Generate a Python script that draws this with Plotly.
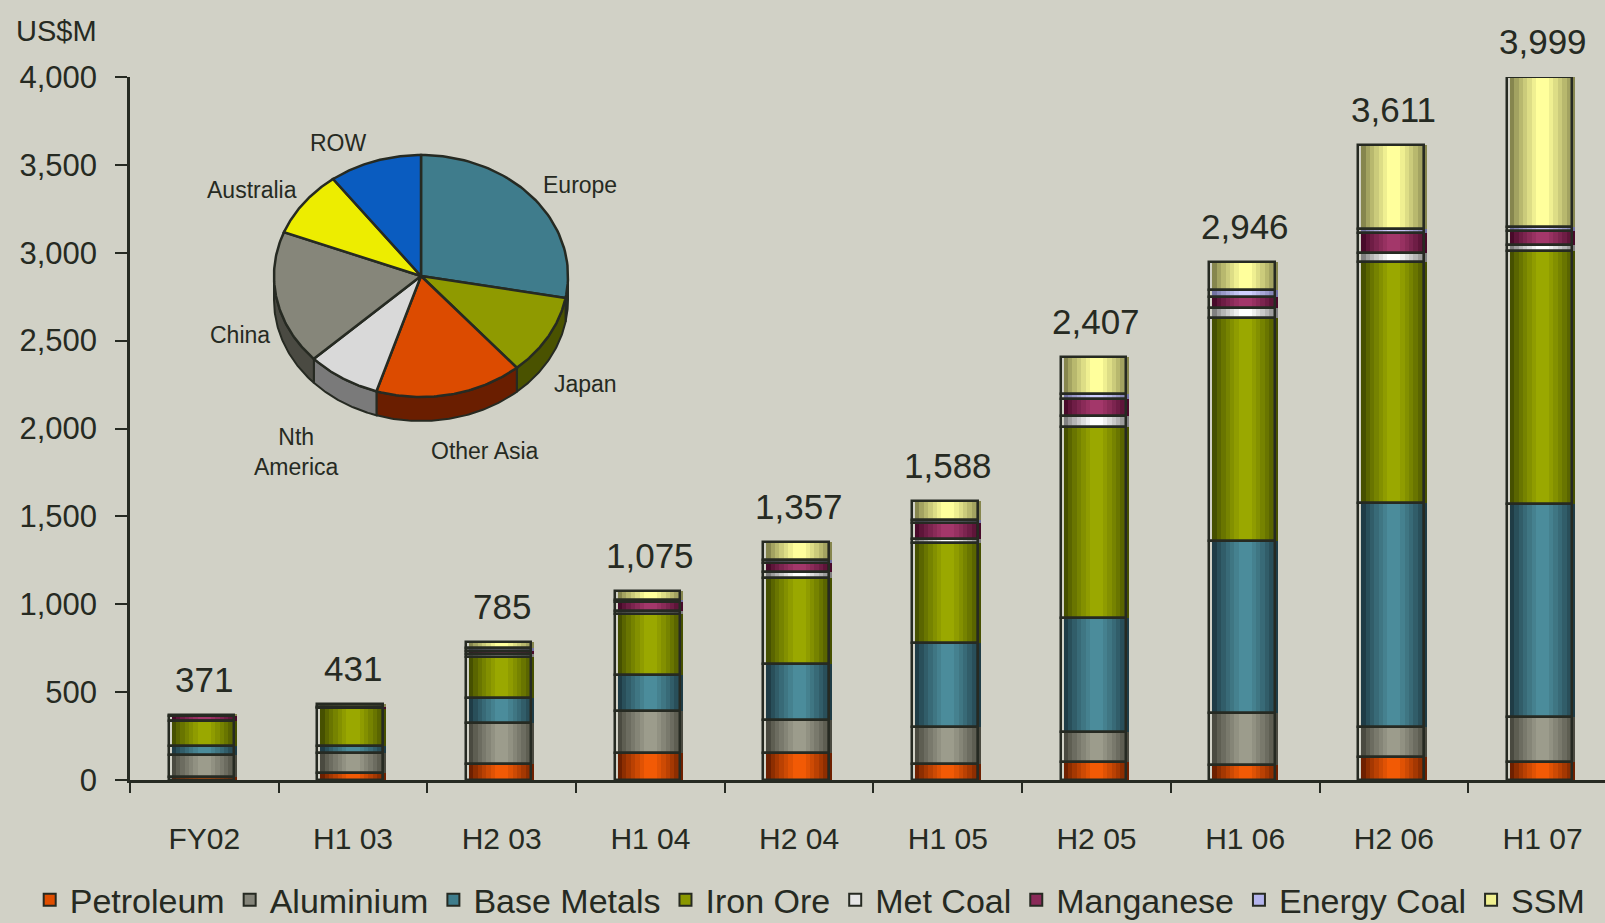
import numpy as np
import plotly.graph_objects as go

# ---- revenue by customer sector group, US$M ----
categories = ["FY02", "H1 03", "H2 03", "H1 04", "H2 04", "H1 05", "H2 05", "H1 06", "H2 06", "H1 07"]
petroleum = [18, 40, 89, 151, 156, 92, 104, 88, 129, 105]
aluminium = [123, 112, 237, 242, 185, 211, 167, 293, 170, 256]
base_metals = [54, 44, 138, 202, 321, 479, 650, 980, 1276, 1208]
iron_ore = [143, 212, 237, 349, 486, 567, 1087, 1268, 1373, 1440]
met_coal = [0, 0, 14, 20, 33, 23, 63, 56, 49, 37]
manganese = [28, 10, 20, 50, 52, 92, 99, 66, 114, 78]
energy_coal = [0, 0, 16, 10, 16, 16, 28, 37, 24, 24]
ssm = [5, 13, 34, 51, 108, 108, 209, 158, 476, 851]

series_names = ["Petroleum", "Aluminium", "Base Metals", "Iron Ore",
                "Met Coal", "Manganese", "Energy Coal", "SSM"]
series_values = [petroleum, aluminium, base_metals, iron_ore,
                 met_coal, manganese, energy_coal, ssm]

# ---- destination split (inset pie), % ----
regions = ["Europe", "Japan", "Other Asia", "Nth America", "China", "Australia", "ROW"]
region_share = [27.9, 10.8, 16.2, 8.1, 17.9, 8.9, 10.2]

# ---- styling ----
BG = "#d1d1c6"
INK = "#262a22"
FONT = "Liberation Sans, Arial, sans-serif"
BAR_W = 0.44

# edge shade, centre highlight, legend swatch
series_colors = {
    "Petroleum":   ("#6e2000", "#f25a05", "#e04e00"),
    "Aluminium":   ("#4a4a40", "#9c9c8c", "#85857a"),
    "Base Metals": ("#1f3c46", "#4b8c9b", "#3f7d8c"),
    "Iron Ore":    ("#465000", "#9aa800", "#8a9800"),
    "Met Coal":    ("#808080", "#ffffff", "#e6e6e6"),
    "Manganese":   ("#480a2a", "#a3376a", "#8a2a58"),
    "Energy Coal": ("#7272a2", "#d0d0ff", "#b4b4ec"),
    "SSM":         ("#86864e", "#ffff9c", "#f0f090"),
}

region_colors = {
    "Europe": ("#3f7c8c", "#22444e"),
    "Japan": ("#8f9a00", "#4a5200"),
    "Other Asia": ("#dc4b00", "#6a1e00"),
    "Nth America": ("#d9d9d9", "#7a7a7a"),
    "China": ("#86867a", "#4a4a42"),
    "Australia": ("#eded00", "#8a8a00"),
    "ROW": ("#0a5cc0", "#05306a"),
}


def mix(c1, c2, t):
    a = [int(c1[i:i + 2], 16) for i in (1, 3, 5)]
    b = [int(c2[i:i + 2], 16) for i in (1, 3, 5)]
    return "#" + "".join(f"{round(x + (y - x) * t):02x}" for x, y in zip(a, b))


fig = go.Figure()

# stacked bars drawn as layered strips to give a rounded, cylinder-like shading
N_STEPS = 7
base = np.zeros(len(categories))
bases = []
for name, vals in zip(series_names, series_values):
    vals = np.array(vals, dtype=float)
    edge, centre, _ = series_colors[name]
    for k in range(N_STEPS):
        t = k / (N_STEPS - 1)
        w = BAR_W * (1.0 - 0.8 * t)
        fig.add_trace(go.Bar(
            x=categories, y=vals, base=base, width=w,
            marker=dict(color=mix(edge, centre, t ** 0.8), line=dict(width=0)),
            showlegend=False, hoverinfo="skip",
        ))
    bases.append(base.copy())
    base = base + vals

# segment outlines
for name, vals, b in zip(series_names, series_values, bases):
    fig.add_trace(go.Bar(
        x=categories, y=vals, base=b, width=BAR_W, offset=-BAR_W / 2 - 0.02,
        marker=dict(color="rgba(0,0,0,0)", line=dict(color=INK, width=2.5)),
        showlegend=False, name=name,
    ))

# legend entries
for name in series_names:
    fig.add_trace(go.Bar(
        x=[None], y=[None], name=name,
        marker=dict(color=series_colors[name][2], line=dict(color=INK, width=2)),
    ))

# totals above each bar
totals = base
for cat, tot in zip(categories, totals):
    fig.add_annotation(
        x=cat, y=tot, text=f"{int(round(tot)):,}", showarrow=False,
        xanchor="center", yanchor="bottom", yshift=14,
        font=dict(family=FONT, size=35, color=INK),
    )

# ---- inset pie drawn on a pixel-scaled overlay axis ----
CX, CY, RX, RY, DEPTH = 421, 276, 147, 121, 24


def ellipse_pts(t0, t1, dy=0.0, n=60):
    ts = np.radians(np.linspace(t0, t1, n))
    return CX + RX * np.cos(ts), CY - RY * np.sin(ts) + dy


shares = np.array(region_share, dtype=float)
angles = 360.0 * shares / shares.sum()
starts = 90.0 - np.concatenate([[0.0], np.cumsum(angles)[:-1]])
ends = starts - angles

# front rim
for reg, t_start, t_end in zip(regions, starts, ends):
    hi, lo = min(t_start, 0.0), max(t_end, -180.0)
    if hi <= lo:
        continue
    xa, ya = ellipse_pts(hi, lo)
    xb, yb = ellipse_pts(lo, hi, dy=DEPTH)
    fig.add_trace(go.Scatter(
        x=np.concatenate([xa, xb, xa[:1]]), y=np.concatenate([ya, yb, ya[:1]]),
        xaxis="x2", yaxis="y2", mode="lines", fill="toself",
        fillcolor=region_colors[reg][1], line=dict(color=INK, width=2),
        showlegend=False, hoverinfo="skip",
    ))

# top face
for reg, share, t_start, t_end in zip(regions, region_share, starts, ends):
    xa, ya = ellipse_pts(t_start, t_end)
    fig.add_trace(go.Scatter(
        x=np.concatenate([[CX], xa, [CX]]), y=np.concatenate([[CY], ya, [CY]]),
        xaxis="x2", yaxis="y2", mode="lines", fill="toself",
        fillcolor=region_colors[reg][0], line=dict(color=INK, width=2.5),
        showlegend=False, name=reg, hovertemplate=f"{reg}: {share}%<extra></extra>",
    ))

pie_label_pos = {
    "ROW": (338, 143), "Australia": (252, 190), "Europe": (580, 185),
    "China": (240, 335), "Japan": (585, 384), "Nth America": (296, 452),
    "Other Asia": (485, 451),
}
for reg in regions:
    px, py = pie_label_pos[reg]
    fig.add_annotation(
        x=px, y=py, xref="x2", yref="y2", showarrow=False,
        text=reg.replace("Nth ", "Nth<br>"),
        font=dict(family=FONT, size=23, color=INK),
    )

fig.add_annotation(
    x=(56 - 130) / 1475, y=(780 - 31) / 703, xref="paper", yref="paper",
    xanchor="center", yanchor="middle",
    text="US$M", showarrow=False, font=dict(family=FONT, size=29, color=INK),
)

fig.update_layout(
    width=1605, height=923,
    margin=dict(l=130, r=0, t=77, b=143, autoexpand=False),
    paper_bgcolor=BG, plot_bgcolor=BG,
    barmode="overlay", bargap=0,
    font=dict(family=FONT, color=INK),
    xaxis=dict(
        type="category", range=[-0.5, 9.42], tickson="boundaries",
        ticks="outside", ticklen=10, tickwidth=2, tickcolor=INK,
        showline=True, linecolor=INK, linewidth=2.5, showgrid=False,
        tickfont=dict(family=FONT, size=30, color=INK), ticklabelstandoff=30,
    ),
    yaxis=dict(
        range=[0, 4000], dtick=500, tickformat=",",
        ticks="outside", ticklen=12, tickwidth=2, tickcolor=INK,
        showline=True, linecolor=INK, linewidth=2.5, showgrid=False,
        zeroline=False, tickfont=dict(family=FONT, size=31, color=INK),
        ticklabelstandoff=12,
    ),
    xaxis2=dict(overlaying="x", anchor="y2", range=[130, 1605], visible=False, fixedrange=True),
    yaxis2=dict(overlaying="y", anchor="x2", range=[780, 77], visible=False, fixedrange=True),
    legend=dict(
        orientation="h", x=-0.068, xanchor="left", y=-0.212, yanchor="bottom",
        font=dict(family=FONT, size=34, color=INK), bgcolor="rgba(0,0,0,0)",
        itemwidth=30, traceorder="normal",
    ),
)

fig.write_html("out.html", config={"displayModeBar": False})
